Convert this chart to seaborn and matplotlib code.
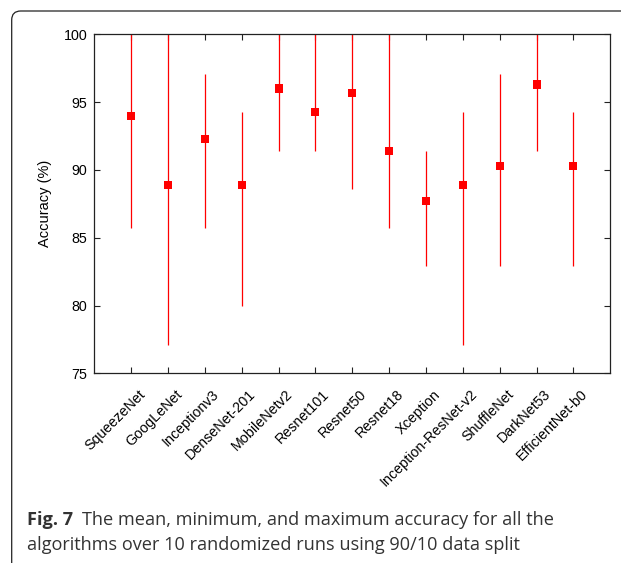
import matplotlib
matplotlib.use("Agg")
import matplotlib.pyplot as plt
from matplotlib.patches import FancyBboxPatch
from matplotlib.transforms import ScaledTranslation
import seaborn as sns
import pandas as pd

models = ["SqueezeNet", "GoogLeNet", "Inceptionv3", "DenseNet-201", "MobileNetv2",
          "Resnet101", "Resnet50", "Resnet18", "Xception", "Inception-ResNet-v2",
          "ShuffleNet", "DarkNet53", "EfficientNet-b0"]
mean_acc = [94.0, 88.9, 92.3, 88.9, 96.0, 94.3, 95.7, 91.4, 87.7, 88.9, 90.3, 96.3, 90.3]
min_acc = [85.7, 77.1, 85.7, 80.0, 91.4, 91.4, 88.6, 85.7, 82.9, 77.1, 82.9, 91.4, 82.9]
max_acc = [100.0, 100.0, 97.1, 94.3, 100.0, 100.0, 100.0, 100.0, 91.4, 94.3, 97.1, 100.0, 94.3]
yticks = [75, 80, 85, 90, 95, 100]
ylabel = "Accuracy (%)"
caption_bold = "Fig. 7"
caption_line1 = "The mean, minimum, and maximum accuracy for all the"
caption_line2 = "algorithms over 10 randomized runs using 90/10 data split"

df = pd.DataFrame({"model": models, "idx": range(len(models)),
                   "mean": mean_acc, "min": min_acc, "max": max_acc})

sns.set_theme(style="white")
plt.rcParams["font.family"] = ["Liberation Sans", "DejaVu Sans"]

W, H = 621, 563
fig = plt.figure(figsize=(W / 100, H / 100), dpi=100)
ax = fig.add_axes([94.3 / W, 1 - 373.3 / H, (610.3 - 94.3) / W, (373.3 - 34.3) / H])

ax.vlines(df["idx"], df["min"], df["max"], color="#ff0000", lw=0.9, zorder=2)
sns.scatterplot(data=df, x="idx", y="mean", marker="s", s=34, color="#ff0000",
                edgecolor="none", linewidth=0, ax=ax, zorder=3, legend=False)

ax.set_xlim(-1, 13)
ax.set_ylim(75, 100)
ax.tick_params(axis="both", direction="in", length=4, width=0.8, color="#222222",
               top=True, right=True, bottom=True, left=True, pad=5)
ax.set_yticks(yticks)
ax.set_yticklabels([str(v) for v in yticks], fontsize=10.3, color="black")
ax.set_xticks(df["idx"])
ax.set_xticklabels(models, rotation=45, ha="right", rotation_mode="anchor",
                   fontsize=10.3, color="black")
ax.set_xlabel("")
ax.set_ylabel(ylabel, fontsize=10.5, color="black", labelpad=8)
for sp in ax.spines.values():
    sp.set_visible(True)
    sp.set_color("#222222")
    sp.set_linewidth(0.9)

shift = ScaledTranslation(5 / 72, -5 / 72, fig.dpi_scale_trans)
for tick in ax.xaxis.get_major_ticks():
    tick.label1.set_transform(tick.label1.get_transform() + shift)

# article figure frame
frame = FancyBboxPatch((11.7 / 100, -0.5), 8.0, 5.63 - 0.11 + 0.5,
                       boxstyle="round,pad=0,rounding_size=0.09",
                       transform=fig.dpi_scale_trans, fill=False,
                       edgecolor="#222222", linewidth=0.9, clip_on=False)
fig.patches.append(frame)

cap_color = "#333333"
cap_font = ["Open Sans", "DejaVu Sans"]
fs = 13.1
t1 = fig.text(27 / W, 1 - 525 / H, caption_bold, fontsize=fs, fontweight="bold",
              family=cap_font, color=cap_color, va="baseline", ha="left")
fig.canvas.draw()
bb = t1.get_window_extent()
fig.text((bb.x1 + 9) / W, 1 - 525 / H, caption_line1, fontsize=fs,
         family=cap_font, color=cap_color, va="baseline", ha="left")
fig.text(27 / W, 1 - 550 / H, caption_line2, fontsize=fs,
         family=cap_font, color=cap_color, va="baseline", ha="left")

fig.savefig("out.png", dpi=100)
